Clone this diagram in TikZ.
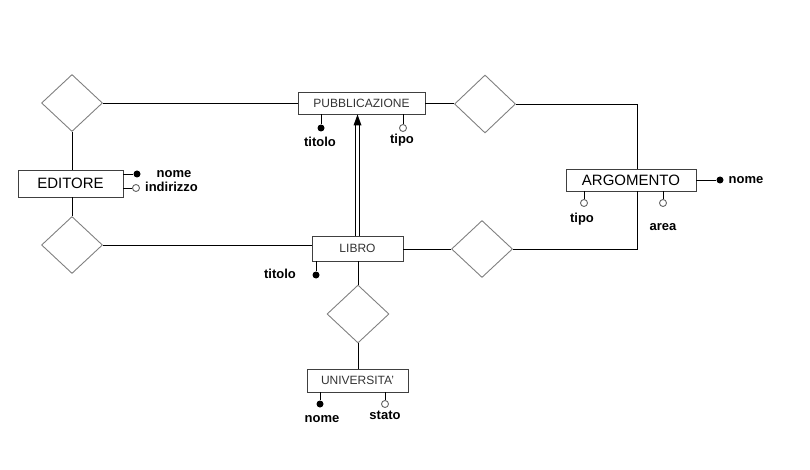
\documentclass[tikz,border=0pt]{standalone}
\usepackage{fontspec}
\setmainfont{Liberation Sans}
\usetikzlibrary{positioning, arrows.meta, shapes.geometric}

\begin{document}
\begin{tikzpicture}[
    x=1pt, y=-1pt, line width=0.9pt,
    entity/.style={draw=black!75, rectangle, inner sep=0pt, font=\fontsize{15}{15}\selectfont},
    light/.style={entity, text=black!80, font=\fontsize{12}{12}\selectfont},
    rel/.style={draw=gray, diamond, inner sep=0pt, minimum width=61pt, minimum height=57pt},
    key/.style={circle, fill=black, inner sep=0pt, minimum size=7pt},
    attr/.style={circle, draw=black!60, fill=white, inner sep=0pt, minimum size=7pt},
    lbl/.style={font=\bfseries\fontsize{13}{13}\selectfont, inner sep=0pt}
]
    \useasboundingbox (0,0) rectangle (810,470);

    % Entities
    \node[entity, minimum width=105pt, minimum height=27pt] (edi) at (70.5,183.5) {EDITORE};
    \node[light, minimum width=127pt, minimum height=22pt] (pub) at (361.5,103) {PUBBLICAZIONE};
    \node[entity, minimum width=130pt, minimum height=22pt] (arg) at (631,180) {ARGOMENTO};
    \node[light, minimum width=91pt, minimum height=25pt] (libro) at (357.5,248.5) {LIBRO};
    \node[light, minimum width=101pt, minimum height=23pt] (univ) at (357.5,380.5) {UNIVERSITA'};

    % Relationships
    \node[rel] (rpub) at (72,103) {};
    \node[rel] (rlib) at (72,245) {};
    \node[rel, minimum height=58pt] (rarg) at (485,104) {};
    \node[rel] (rlarg) at (482,249) {};
    \node[rel, minimum width=62pt, minimum height=58pt] (runi) at (358,314) {};

    % Links
    \draw (rpub.east) -- (rpub.east -| pub.west);
    \draw (rpub.south) -- (rpub.south |- edi.north);
    \draw (rlib.north |- edi.south) -- (rlib.north);
    \draw (rlib.east) -- (rlib.east -| libro.west);
    \draw (pub.east) -- (pub.east -| rarg.west);
    \draw (rarg.east) -| ([xshift=6pt]arg.north);
    \draw (rlarg.east) -| ([xshift=6pt]arg.south);
    \draw (libro.east |- rlarg.west) -- (rlarg.west);
    \draw (runi.north |- libro.south) -- (runi.north);
    \draw (runi.south) -- (runi.south |- univ.north);

    % Generalisation
    \coordinate (isa) at ([xshift=-4pt]pub.south);
    \coordinate (isal) at ([xshift=-2pt]isa);
    \coordinate (isar) at ([xshift=2pt]isa);
    \draw (isal |- libro.north) -- ([yshift=-10pt]isal);
    \draw (isar |- libro.north) -- ([yshift=-10pt]isar);
    \fill (isa) -- ++(-4,11) -- ++(8,0) -- cycle;

    % Attributes of EDITORE
    \node[key] (edinome) at (137,174) {};
    \node[attr] (ediind) at (136,188) {};
    \draw (edi.east |- edinome) -- (edinome);
    \draw (edi.east |- ediind) -- (ediind);
    \node[lbl] at (174,174) {nome};
    \node[lbl] at (171.5,187) {indirizzo};

    % Attributes of PUBBLICAZIONE
    \node[key] (pubtit) at (321,128) {};
    \node[attr] (pubtipo) at (403,128) {};
    \draw (pub.south -| pubtit) -- (pubtit);
    \draw (pub.south -| pubtipo) -- (pubtipo);
    \node[lbl] at (320,142) {titolo};
    \node[lbl] at (402,140) {tipo};

    % Attributes of ARGOMENTO
    \node[key] (argnome) at (720,180) {};
    \node[attr] (argtipo) at (584,203) {};
    \node[attr] (argarea) at (663,203) {};
    \draw (arg.east) -- (argnome);
    \draw (arg.south -| argtipo) -- (argtipo);
    \draw (arg.south -| argarea) -- (argarea);
    \node[lbl] at (746,180) {nome};
    \node[lbl] at (582,219) {tipo};
    \node[lbl] at (663,227) {area};

    % Attributes of LIBRO
    \node[key] (libtit) at (316,275) {};
    \draw (libro.south -| libtit) -- (libtit);
    \node[lbl] at (280,274) {titolo};

    % Attributes of UNIVERSITA'
    \node[key] (uninome) at (320,404) {};
    \node[attr] (unistato) at (385,404) {};
    \draw (univ.south -| uninome) -- (uninome);
    \draw (univ.south -| unistato) -- (unistato);
    \node[lbl] at (322,419) {nome};
    \node[lbl] at (385,415) {stato};

\end{tikzpicture}
\end{document}
